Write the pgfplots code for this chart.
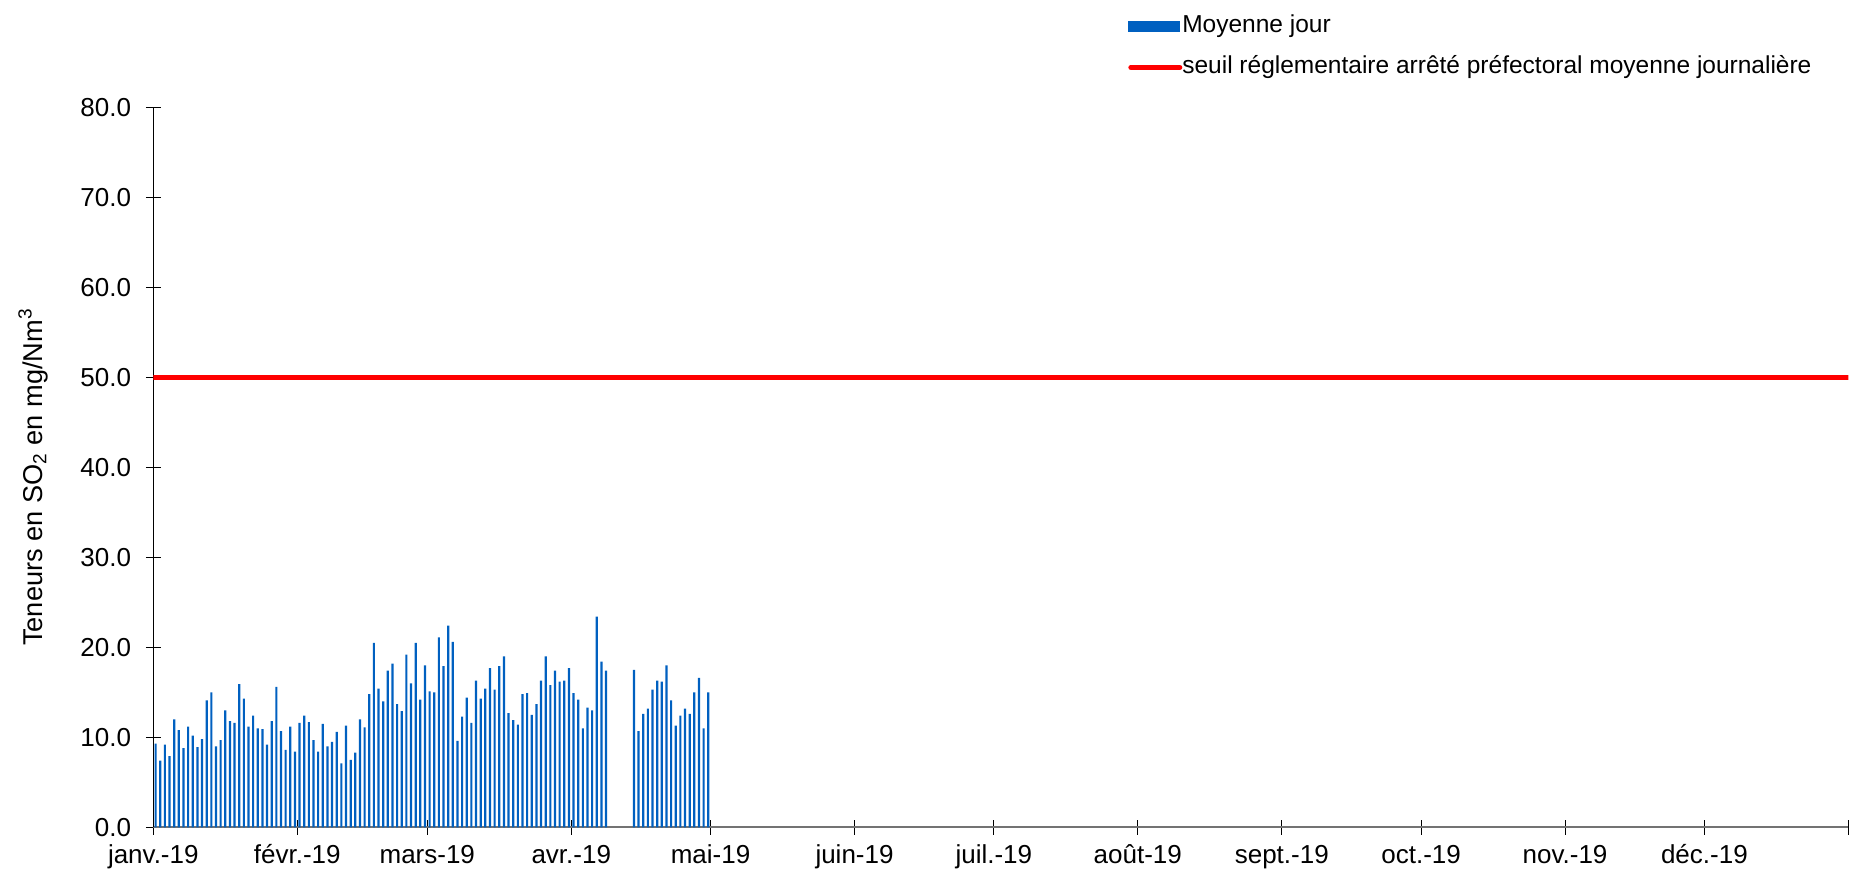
\documentclass[border=0pt]{standalone}
\usepackage{fontspec}
\setmainfont{Liberation Sans}
\usepackage{pgfplots}
\usepackage{pgfplotstable}
\pgfplotsset{compat=1.18}
\definecolor{barblue}{RGB}{0,96,192}

% x = day of year - 0.5 (0 = 1 January 2019)
\pgfplotstableread{
x y
0.5 9.3
1.5 7.4
2.5 9.2
3.5 7.9
4.5 12.0
5.5 10.8
6.5 8.8
7.5 11.2
8.5 10.2
9.5 8.9
10.5 9.8
11.5 14.1
12.5 15.0
13.5 9.0
14.5 9.7
15.5 13.0
16.5 11.8
17.5 11.6
18.5 15.9
19.5 14.3
20.5 11.2
21.5 12.4
22.5 11.0
23.5 10.9
24.5 9.2
25.5 11.8
26.5 15.6
27.5 10.7
28.5 8.6
29.5 11.2
30.5 8.4
31.5 11.6
32.5 12.4
33.5 11.7
34.5 9.7
35.5 8.4
36.5 11.5
37.5 9.0
38.5 9.5
39.5 10.6
40.5 7.1
41.5 11.3
42.5 7.5
43.5 8.3
44.5 12.0
45.5 11.1
46.5 14.8
47.5 20.5
48.5 15.4
49.5 14.0
50.5 17.4
51.5 18.2
52.5 13.7
53.5 12.9
54.5 19.2
55.5 16.0
56.5 20.5
57.5 14.2
58.5 18.0
59.5 15.1
60.5 15.0
61.5 21.1
62.5 17.9
63.5 22.4
64.5 20.6
65.5 9.6
66.5 12.3
67.5 14.4
68.5 11.6
69.5 16.3
70.5 14.3
71.5 15.4
72.5 17.7
73.5 15.3
74.5 17.9
75.5 19.0
76.5 12.7
77.5 11.9
78.5 11.4
79.5 14.8
80.5 14.9
81.5 12.5
82.5 13.7
83.5 16.3
84.5 19.0
85.5 15.8
86.5 17.4
87.5 16.2
88.5 16.3
89.5 17.7
90.5 14.9
91.5 14.2
92.5 11.0
93.5 13.3
94.5 13.0
95.5 23.4
96.5 18.4
97.5 17.4
103.5 17.5
104.5 10.7
105.5 12.6
106.5 13.2
107.5 15.3
108.5 16.3
109.5 16.2
110.5 18.0
111.5 14.1
112.5 11.3
113.5 12.4
114.5 13.2
115.5 12.6
116.5 15.0
117.5 16.6
118.5 11.0
119.5 15.0
}\bars

\begin{document}
\begin{tikzpicture}
\begin{axis}[
  scale only axis,
  width=847.5pt, height=360pt,
  xmin=0, xmax=365, ymin=0, ymax=80,
  axis x line*=bottom, axis y line*=left,
  x axis line style={draw=black!55, line width=1pt},
  y axis line style={draw=black, line width=0.7pt},
  xtick={0,31,59,90,120,151,181,212,243,273,304,334,365},
  xticklabels={janv.-19,févr.-19,mars-19,avr.-19,mai-19,juin-19,juil.-19,août-19,sept.-19,oct.-19,nov.-19,déc.-19,{}},
  ytick={0,10,...,80},
  tick align=center,
  major tick length=7.5pt,
  tick style={black, line width=0.5pt},
  /pgf/number format/.cd, fixed, fixed zerofill, precision=1, assume math mode=true,
  /pgfplots/.cd,
  tick label style={font=\fontsize{13}{15}\selectfont, text=black},
  yticklabel style={anchor=east, inner sep=0pt, xshift=-7.15pt},
  xticklabel style={anchor=base, inner sep=0pt, yshift=-14.5pt},
  ylabel={Teneurs en SO\textsubscript{2} en mg/Nm\textsuperscript{3}},
  ylabel style={font=\fontsize{13.6}{16}\selectfont, at={(axis description cs:-0.0709,0.4865)}, anchor=center, rotate=0, inner sep=0pt},
  legend cell align=left,
  legend style={draw=none, fill=none, at={(axis description cs:0.575,1.129)}, anchor=north west,
    inner sep=0pt, row sep=8.3pt, font=\fontsize{12.25}{14}\selectfont,
    nodes={inner sep=0pt, text height=9pt, text depth=3pt},
    /tikz/every even column/.append style={column sep=3pt}},
]
\addplot[ybar, bar width=0.47, bar shift=0pt, fill=barblue, draw=none,
  legend image code/.code={\fill[barblue] (0pt,-2.75pt) rectangle (26pt,2.75pt);}]
  table[x=x, y=y] {\bars};
\addlegendentry{Moyenne jour}
\addplot[red, line width=2.5pt, line cap=round,
  legend image code/.code={\draw[red, line width=2.5pt, line cap=round] (1.25pt,0pt) -- (25.75pt,0pt);}]
  coordinates {(0,50) (365,50)};
\addlegendentry{seuil réglementaire arrêté préfectoral moyenne journalière}
\coordinate (bbsw) at (axis description cs:-0.09044,-0.06486);
\coordinate (bbne) at (axis description cs:1.00159,1.14903);
\end{axis}
\path (bbsw) rectangle (bbne);
\end{tikzpicture}
\end{document}
